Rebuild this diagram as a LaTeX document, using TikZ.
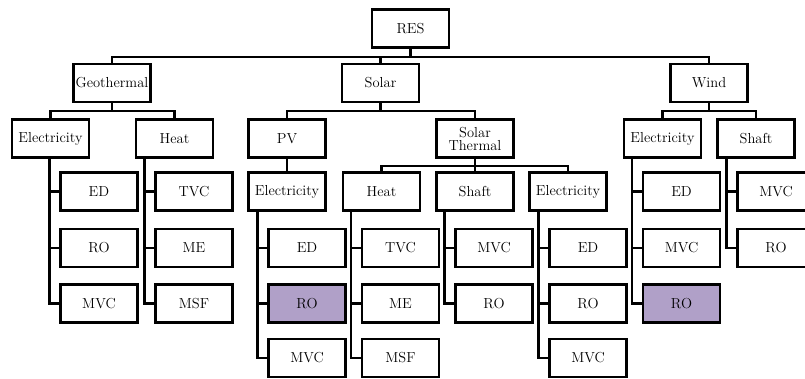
\documentclass[tikz,border=0pt]{standalone}
\usetikzlibrary{calc}
\definecolor{hilite}{RGB}{176,160,200}
\begin{document}
\begin{tikzpicture}[x=1pt,y=-1pt,
  every node/.style={font=\fontsize{14.5}{15}\selectfont},
  box/.style={draw=black,line width=2.1pt,fill=white,minimum width=77pt,minimum height=38pt,inner sep=0pt,align=center},
  mark box/.style={box,fill=hilite},
  link/.style={line width=2.1pt,line join=miter}]
\useasboundingbox (0,0) rectangle (805,379);

% root and first level
\node[box] (res) at (410.5,28.5) {RES};
\node[box] (geo) at (112,83) {Geothermal};
\node[box] (sol) at (380.5,83) {Solar};
\node[box] (wind) at (709,83) {Wind};

% second level
\node[box] (geoE) at (50.5,138.5) {Electricity};
\node[box] (geoH) at (174.5,138.5) {Heat};
\node[box] (pv) at (287,138.5) {PV};
\node[box] (st) at (475,138.5) {Solar\\[-2pt]Thermal};
\node[box] (windE) at (662.5,138.5) {Electricity};
\node[box] (windS) at (756,138.5) {Shaft};

% geothermal branches
\node[box] (gED)  at (99,191.5) {ED};
\node[box] (gRO)  at (99,248) {RO};
\node[box] (gMVC) at (99,303.5) {MVC};
\node[box] (gTVC) at (194,191.5) {TVC};
\node[box] (gME)  at (194,248) {ME};
\node[box] (gMSF) at (194,303.5) {MSF};

% PV branch
\node[box] (pvE)   at (287,191.5) {Electricity};
\node[box] (pvED)  at (307,248) {ED};
\node[mark box] (pvRO) at (307,303.5) {RO};
\node[box] (pvMVC) at (307,358) {MVC};

% solar thermal branches
\node[box] (stH) at (381.5,191.5) {Heat};
\node[box] (stS) at (475,191.5) {Shaft};
\node[box] (stE) at (568,191.5) {Electricity};
\node[box] (stTVC) at (400.5,248) {TVC};
\node[box] (stME)  at (400.5,303.5) {ME};
\node[box] (stMSF) at (400.5,358) {MSF};
\node[box] (ssMVC) at (494,248) {MVC};
\node[box] (ssRO)  at (494,303.5) {RO};
\node[box] (seED)  at (588,248) {ED};
\node[box] (seRO)  at (588,303.5) {RO};
\node[box] (seMVC) at (588,358) {MVC};

% wind branches
\node[box] (wED)  at (681.5,191.5) {ED};
\node[box] (wMVC) at (681.5,248) {MVC};
\node[mark box] (wRO) at (681.5,303.5) {RO};
\node[box] (wsMVC) at (776,191.5) {MVC};
\node[box] (wsRO)  at (776,248) {RO};

% horizontal bus heights
\coordinate (busA) at (0,57);
\coordinate (busB) at (0,111);
\coordinate (busC) at (0,166);

% root to sources
\draw[link] (res.south) -- (res.south |- busA);
\draw[link] (geo.north) -- (geo.north |- busA) -- (wind.north |- busA) -- (wind.north);
\draw[link] (sol.north) -- (sol.north |- busA);

% sources to uses
\draw[link] (geoE.north) -- (geoE.north |- busB) -- (geoH.north |- busB) -- (geoH.north);
\draw[link] (geo.south) -- (geo.south |- busB);
\draw[link] (pv.north) -- (pv.north |- busB) -- (st.north |- busB) -- (st.north);
\draw[link] (sol.south) -- (sol.south |- busB);
\draw[link] (windE.north) -- (windE.north |- busB) -- (windS.north |- busB) -- (windS.north);
\draw[link] (wind.south) -- (wind.south |- busB);
\draw[link] (pv.south) -- (pvE.north);
\draw[link] (stH.north) -- (stH.north |- busC) -- (stE.north |- busC) -- (stE.north);
\draw[link] (st.south) -- (stS.north);

% side rails from each use to its processes
\newcommand\rail[3]{%
  \coordinate (#1-rail) at ($(#2.west)+(-10,0)$);
  \foreach \kid in {#3}
    \draw[link] (#1.south -| #1-rail) |- (\kid.west);}
\rail{geoE}{gED}{gED,gRO,gMVC}
\rail{geoH}{gTVC}{gTVC,gME,gMSF}
\rail{pvE}{pvED}{pvED,pvRO,pvMVC}
\rail{stH}{stTVC}{stTVC,stME,stMSF}
\rail{stS}{ssMVC}{ssMVC,ssRO}
\rail{stE}{seED}{seED,seRO,seMVC}
\rail{windE}{wED}{wED,wMVC,wRO}
\rail{windS}{wsMVC}{wsMVC,wsRO}
\end{tikzpicture}
\end{document}
